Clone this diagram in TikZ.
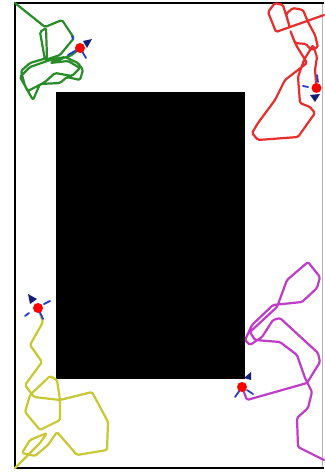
\documentclass[tikz,border=0pt]{standalone}
\usepackage{tikz}
\definecolor{tgreen}{RGB}{40,140,40}
\definecolor{tred}{RGB}{232,45,45}
\definecolor{tyellow}{RGB}{200,200,50}
\definecolor{tmag}{RGB}{190,60,200}
\definecolor{navy}{RGB}{20,30,120}
\definecolor{ray}{RGB}{40,60,210}
\tikzset{
  traj/.style={line width=2.2pt, line join=round, line cap=round, rounded corners=1.5pt},
  robot/.style={fill=red, draw=none},
  rayseg/.style={ray, line width=1.8pt, line cap=round},
  head/.style={fill=navy, draw=none},
}
\begin{document}
\begin{tikzpicture}[x=1pt,y=-1pt]
\useasboundingbox (0,0) rectangle (324,473);
\fill[white] (0,0) rectangle (324,473);
% frame
\draw[black!30, line width=0.6pt] (322,3) -- (322,468);
\draw[black, line width=2.6pt] (324,3) -- (15,3) -- (15,468) -- (324,468);
% obstacle
\fill[black] (56,92) rectangle (245,379);

% robot positions
\coordinate (g) at (80,48);
\coordinate (r) at (316.5,88);
\coordinate (y) at (38,308);
\coordinate (m) at (242,387);

% green trajectory
\draw[tgreen, traj] (15,3) -- (45,27) -- (62,20) -- (74,38) -- (60,55) -- (45,60) -- (40,32)
  -- (46,28) -- (47,58) -- (30,63) -- (21,71) -- (25,86) -- (33,100) -- (40,84) -- (60,83)
  -- (67,77) -- (80,80) -- (83,70) -- (78,63) -- (65,57) -- (50,60) -- (30,67) -- (20,77)
  -- (28,91) -- (45,82) -- (55,73) -- (72,76) -- (80,68) -- (68,61) -- (50,63) -- (72,55) -- (g);

% red trajectory
\draw[tred, traj] (324,15) -- (276,32) -- (268,12) -- (275,3) -- (283,5) -- (290,28)
  -- (286,14) -- (293,8) -- (303,10) -- (308,22) -- (315,35) -- (318,47) -- (311,50)
  -- (306,44) -- (295,43) -- (290,30) -- (296,45) -- (307,63) -- (285,80) -- (275,100)
  -- (258,123) -- (252,133) -- (258,140) -- (298,137) -- (315,113) -- (310,107)
  -- (300,103) -- (298,77) -- (304,60) -- (313,45) -- (317,57) -- (315,70) -- (r);

% yellow trajectory
\draw[tyellow, traj] (15,468) -- (40,443) -- (47,433) -- (30,440) -- (22,453) -- (35,456)
  -- (48,445) -- (57,432) -- (77,455) -- (107,450) -- (108,422) -- (92,392) -- (60,400)
  -- (57,380) -- (50,376) -- (30,395) -- (25,412) -- (40,430) -- (60,420) -- (60,400)
  -- (34,397) -- (25,385) -- (42,362) -- (30,345) -- (43,322) -- (y);

% magenta trajectory
\draw[tmag, traj] (324,460) -- (298,447) -- (297,418) -- (308,408) -- (312,392) -- (305,378)
  -- (297,355) -- (280,342) -- (255,340) -- (250,332) -- (277,307) -- (287,280) -- (308,262)
  -- (320,277) -- (317,288) -- (302,302) -- (273,305) -- (252,325) -- (245,340) -- (250,345)
  -- (262,337) -- (273,320) -- (280,318) -- (318,353) -- (320,362) -- (307,383) -- (247,400) -- (m);

% green robot
\draw[rayseg] (g) -- ++(-12,7);
\draw[rayseg] (g) -- ++(6,10);
\draw[rayseg] (72,36) -- (73,39);
\fill[head] (92,39) -- (83,41) -- (87,48) -- cycle;
\fill[robot] (g) circle (5);

% red robot
\draw[rayseg] (303,86) -- (308,87);
\draw[rayseg] (317,75) -- (318,82);
\fill[head] (310,95) -- (320,94) -- (315,102) -- cycle;
\fill[robot] (r) circle (5);

% yellow robot
\draw[rayseg] (25,316) -- (29,313);
\draw[rayseg] (44,304) -- (50,301);
\draw[rayseg] (y) -- (43,319);
\fill[head] (28,294) -- (37,299) -- (30,304) -- cycle;
\fill[robot] (y) circle (5);

% magenta robot
\draw[rayseg] (235,397) -- (240,390);
\draw[rayseg] (247,390) -- (253,394);
\fill[head] (251,372) -- (251,380) -- (244,378) -- cycle;
\fill[robot] (m) circle (5);
\end{tikzpicture}
\end{document}
